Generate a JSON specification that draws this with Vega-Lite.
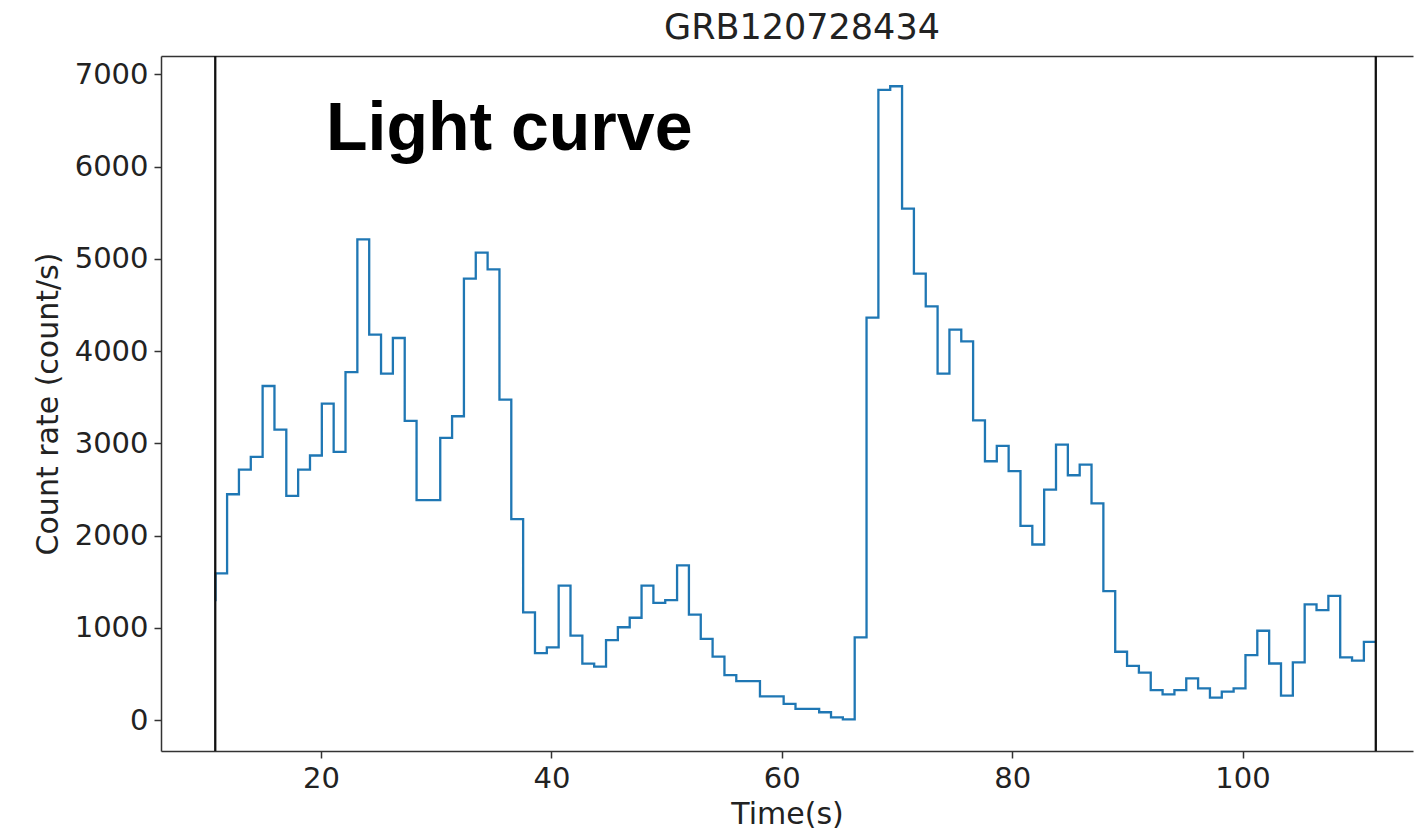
{
  "$schema": "https://vega.github.io/schema/vega-lite/v6.json",
  "autosize": {"type": "none"},
  "padding": {"left": 161, "top": 56, "right": 1, "bottom": 88},
  "width": 1252,
  "height": 695,
  "background": "white",
  "config": {
    "view": {"stroke": null},
    "font": "DejaVu Sans",
    "axis": {"grid": false, "domainColor": "#333", "domainWidth": 1.5, "tickColor": "#333", "tickWidth": 1.5, "tickSize": 7, "labelFont": "DejaVu Sans", "labelFontSize": 29, "labelColor": "#222", "titleFont": "DejaVu Sans", "titleFontSize": 30, "titleFontWeight": "normal", "titleColor": "#222"}
  },
  "title": {"text": "GRB120728434", "font": "DejaVu Sans", "fontSize": 35, "fontWeight": "normal", "color": "#222", "offset": 9, "dx": 15},
  "datasets": {
    "lc": [
      {"t": 10.82, "rate": 1300},
      {"t": 10.84, "rate": 1589},
      {"t": 11.848, "rate": 2448},
      {"t": 12.876, "rate": 2716},
      {"t": 13.904, "rate": 2853},
      {"t": 14.932, "rate": 3622},
      {"t": 15.96, "rate": 3149},
      {"t": 16.988, "rate": 2430},
      {"t": 18.016, "rate": 2716},
      {"t": 19.044, "rate": 2868},
      {"t": 20.072, "rate": 3431},
      {"t": 21.1, "rate": 2907},
      {"t": 22.128, "rate": 3773},
      {"t": 23.156, "rate": 5211},
      {"t": 24.184, "rate": 4178},
      {"t": 25.212, "rate": 3756},
      {"t": 26.24, "rate": 4142},
      {"t": 27.268, "rate": 3243},
      {"t": 28.296, "rate": 2384},
      {"t": 29.324, "rate": 2384},
      {"t": 30.352, "rate": 3059},
      {"t": 31.38, "rate": 3294},
      {"t": 32.408, "rate": 4785},
      {"t": 33.436, "rate": 5067},
      {"t": 34.464, "rate": 4886},
      {"t": 35.492, "rate": 3475},
      {"t": 36.52, "rate": 2178},
      {"t": 37.548, "rate": 1167},
      {"t": 38.576, "rate": 725},
      {"t": 39.604, "rate": 787},
      {"t": 40.632, "rate": 1457},
      {"t": 41.66, "rate": 915},
      {"t": 42.688, "rate": 611},
      {"t": 43.716, "rate": 578},
      {"t": 44.744, "rate": 867},
      {"t": 45.772, "rate": 1006},
      {"t": 46.8, "rate": 1109},
      {"t": 47.828, "rate": 1457},
      {"t": 48.856, "rate": 1270},
      {"t": 49.884, "rate": 1299},
      {"t": 50.912, "rate": 1676},
      {"t": 51.94, "rate": 1142},
      {"t": 52.968, "rate": 879},
      {"t": 53.996, "rate": 688},
      {"t": 55.024, "rate": 486},
      {"t": 56.052, "rate": 421},
      {"t": 57.08, "rate": 421},
      {"t": 58.108, "rate": 256},
      {"t": 59.136, "rate": 256},
      {"t": 60.164, "rate": 176},
      {"t": 61.192, "rate": 121},
      {"t": 62.22, "rate": 121},
      {"t": 63.248, "rate": 84},
      {"t": 64.276, "rate": 29},
      {"t": 65.304, "rate": 8},
      {"t": 66.332, "rate": 897},
      {"t": 67.36, "rate": 4363},
      {"t": 68.388, "rate": 6833},
      {"t": 69.416, "rate": 6872},
      {"t": 70.444, "rate": 5544},
      {"t": 71.472, "rate": 4840},
      {"t": 72.5, "rate": 4485},
      {"t": 73.528, "rate": 3756},
      {"t": 74.556, "rate": 4232},
      {"t": 75.584, "rate": 4106},
      {"t": 76.612, "rate": 3250},
      {"t": 77.64, "rate": 2806},
      {"t": 78.668, "rate": 2972},
      {"t": 79.696, "rate": 2698},
      {"t": 80.724, "rate": 2106},
      {"t": 81.752, "rate": 1903},
      {"t": 82.78, "rate": 2499},
      {"t": 83.808, "rate": 2987},
      {"t": 84.836, "rate": 2654},
      {"t": 85.864, "rate": 2770},
      {"t": 86.892, "rate": 2348},
      {"t": 87.92, "rate": 1398},
      {"t": 88.948, "rate": 740},
      {"t": 89.976, "rate": 588},
      {"t": 91.004, "rate": 513},
      {"t": 92.032, "rate": 325},
      {"t": 93.06, "rate": 278},
      {"t": 94.088, "rate": 325},
      {"t": 95.116, "rate": 452},
      {"t": 96.144, "rate": 343},
      {"t": 97.172, "rate": 242},
      {"t": 98.2, "rate": 307},
      {"t": 99.228, "rate": 343},
      {"t": 100.256, "rate": 704},
      {"t": 101.284, "rate": 968},
      {"t": 102.312, "rate": 613},
      {"t": 103.34, "rate": 264},
      {"t": 104.368, "rate": 625},
      {"t": 105.396, "rate": 1253},
      {"t": 106.424, "rate": 1192},
      {"t": 107.452, "rate": 1347},
      {"t": 108.48, "rate": 679},
      {"t": 109.508, "rate": 643},
      {"t": 110.536, "rate": 848},
      {"t": 111.564, "rate": 848}
    ],
    "bounds": [
      {"t": 10.82},
      {"t": 111.57}
    ],
    "label": [
      {"t": 20.43, "rate": 6180, "text": "Light curve"}
    ]
  },
  "layer": [
    {
      "data": {"name": "lc"},
      "mark": {"type": "line", "interpolate": "step-after", "color": "#1f77b4", "strokeWidth": 2.3},
      "encoding": {
        "x": {"field": "t", "type": "quantitative", "scale": {"domain": [6.11, 114.8], "nice": false, "zero": false}, "axis": {"title": "Time(s)", "values": [20, 40, 60, 80, 100], "format": "d", "labelPadding": 6, "titlePadding": 6}},
        "y": {"field": "rate", "type": "quantitative", "scale": {"domain": [-336, 7200], "nice": false, "zero": false}, "axis": {"title": "Count rate (count/s)", "values": [0, 1000, 2000, 3000, 4000, 5000, 6000, 7000], "format": "d", "labelPadding": 6, "titlePadding": 11}}
      }
    },
    {
      "data": {"name": "bounds"},
      "mark": {"type": "rule", "color": "#111", "strokeWidth": 2.3},
      "encoding": {
        "x": {"field": "t", "type": "quantitative", "axis": {"orient": "top", "labels": false, "ticks": false, "title": null, "domain": true}}
      }
    },
    {
      "data": {"name": "label"},
      "mark": {"type": "text", "font": "Liberation Sans", "fontWeight": "bold", "fontSize": 68, "align": "left", "baseline": "alphabetic", "color": "black"},
      "encoding": {
        "x": {"field": "t", "type": "quantitative", "axis": null},
        "y": {"field": "rate", "type": "quantitative"},
        "text": {"field": "text"}
      }
    }
  ],
  "resolve": {"axis": {"x": "independent"}}
}
